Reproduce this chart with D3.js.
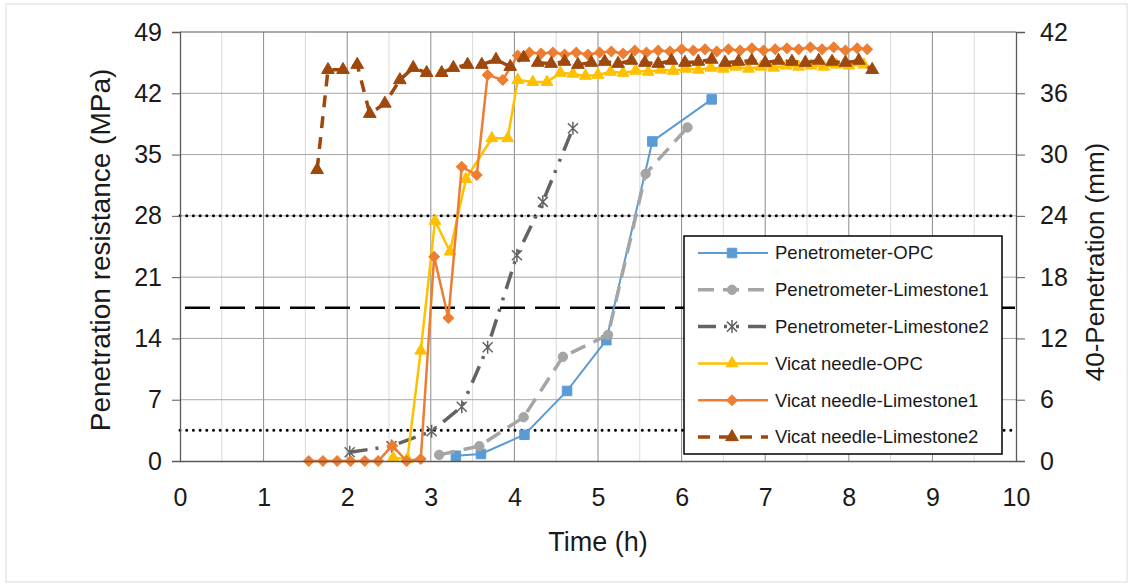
<!DOCTYPE html>
<html lang="en">
<head>
<meta charset="utf-8">
<script src="https://cdn.jsdelivr.net/npm/d3@7/dist/d3.min.js"></script>
<style>
  body { margin: 0; background: #fff; }
  text { font-family: "Liberation Sans", Arial, sans-serif; fill: #1a1a1a; }
</style>
</head>
<body>
<div id="chart"></div>
<script>
// Penetrometer series, penetration resistance (MPa) on the left axis
const penOpcTime = [3.30, 3.60, 4.12, 4.63, 5.10, 5.65, 6.36];
const penOpcVal  = [0.6, 0.8, 3.0, 8.0, 13.8, 36.5, 41.3];
const penL1Time  = [3.10, 3.58, 4.11, 4.58, 5.12, 5.57, 6.07];
const penL1Val   = [0.7, 1.7, 5.0, 11.9, 14.4, 32.8, 38.1];
const penL2Time  = [2.03, 2.53, 3.01, 3.37, 3.68, 4.03, 4.34, 4.70];
const penL2Val   = [1.0, 1.7, 3.4, 6.2, 13.0, 23.5, 29.6, 38.0];

// Vicat needle series, 40-penetration (mm) on the right axis
const vicOpcTime = [2.55, 2.72, 2.88, 3.05, 3.23, 3.42, 3.73, 3.92, 4.04, 4.22, 4.39, 4.55, 4.70, 4.85,
  5.00, 5.15, 5.30, 5.45, 5.60, 5.75, 5.90, 6.05, 6.20, 6.35, 6.50, 6.65, 6.80, 6.95, 7.10, 7.25,
  7.40, 7.55, 7.70, 7.85, 8.00, 8.18];
const vicOpcVal  = [0.3, 0.2, 10.8, 23.5, 20.5, 27.6, 31.6, 31.6, 37.3, 37.1, 37.1, 38.0, 37.9, 37.7,
  37.8, 38.1, 38.0, 38.2, 38.1, 38.3, 38.2, 38.4, 38.3, 38.5, 38.4, 38.6, 38.4, 38.6, 38.5, 38.7,
  38.6, 38.7, 38.6, 38.8, 38.7, 38.8];
const vicL1Time  = [1.54, 1.71, 1.88, 2.04, 2.21, 2.37, 2.54, 2.71, 2.88, 3.04, 3.21, 3.37, 3.55, 3.68,
  3.86, 4.04, 4.18, 4.32, 4.46, 4.60, 4.74, 4.88, 5.02, 5.16, 5.30, 5.44, 5.58, 5.72, 5.86, 6.00,
  6.14, 6.28, 6.42, 6.56, 6.70, 6.84, 6.98, 7.12, 7.26, 7.40, 7.54, 7.68, 7.82, 7.96, 8.10, 8.22];
const vicL1Val   = [0, 0, 0, 0, 0, 0, 1.5, 0, 0.2, 20.0, 14.0, 28.8, 28.0, 37.8,
  37.3, 39.7, 40.0, 39.9, 40.0, 39.8, 40.0, 39.8, 40.0, 40.1, 39.9, 40.2, 40.0, 40.2, 40.1, 40.3,
  40.2, 40.3, 40.1, 40.3, 40.2, 40.4, 40.2, 40.3, 40.4, 40.3, 40.5, 40.3, 40.5, 40.2, 40.4, 40.3];
const vicL2Time  = [1.64, 1.77, 1.95, 2.12, 2.27, 2.45, 2.63, 2.79, 2.95, 3.13, 3.27, 3.44, 3.61, 3.78,
  3.95, 4.11, 4.28, 4.44, 4.60, 4.76, 4.92, 5.08, 5.24, 5.40, 5.56, 5.72, 5.88, 6.04, 6.20, 6.36,
  6.52, 6.68, 6.84, 7.00, 7.16, 7.32, 7.48, 7.64, 7.80, 7.96, 8.12, 8.28];
const vicL2Val   = [28.5, 38.3, 38.3, 38.8, 34.0, 35.0, 37.3, 38.5, 38.0, 38.0, 38.5, 38.8, 38.8, 39.3,
  38.6, 39.5, 39.0, 38.9, 39.1, 38.8, 39.0, 39.1, 38.9, 39.2, 39.0, 38.9, 39.2, 39.0, 39.1, 39.3,
  39.0, 39.1, 39.2, 39.0, 39.2, 39.1, 39.0, 39.2, 39.1, 39.0, 39.2, 38.3];

// set-time limit lines (MPa)
const refDotted = [28, 3.5];
const refDashed = [17.5];

const xTicks = [0, 1, 2, 3, 4, 5, 6, 7, 8, 9, 10];
const yLeftTicks = [0, 7, 14, 21, 28, 35, 42, 49];
const yRightTicks = [0, 6, 12, 18, 24, 30, 36, 42];

const width = 1130, height = 584;
const svg = d3.select("#chart").append("svg")
  .attr("width", width).attr("height", height);

svg.append("rect")
  .attr("x", 6).attr("y", 4).attr("width", 1121).attr("height", 578)
  .attr("fill", "#fff").attr("stroke", "#d9d9d9");

const x = d3.scaleLinear().domain([0, 10]).range([180, 1016]);
const yL = d3.scaleLinear().domain([0, 49]).range([461, 32]);
const yR = d3.scaleLinear().domain([0, 42]).range([461, 32]);

// grid
const grid = svg.append("g");
grid.selectAll(".minor").data(d3.range(0.5, 10, 1)).enter().append("line")
  .attr("x1", d => x(d)).attr("x2", d => x(d)).attr("y1", yL(49)).attr("y2", yL(0))
  .attr("stroke", "#d9d9d9").attr("stroke-width", 1);
grid.selectAll(".major").data(xTicks.slice(1, -1)).enter().append("line")
  .attr("x1", d => x(d)).attr("x2", d => x(d)).attr("y1", yL(49)).attr("y2", yL(0))
  .attr("stroke", "#8c8c8c").attr("stroke-width", 1);
grid.selectAll(".hgrid").data(yLeftTicks.slice(1)).enter().append("line")
  .attr("x1", x(0)).attr("x2", x(10)).attr("y1", d => yL(d)).attr("y2", d => yL(d))
  .attr("stroke", d => d === 49 ? "#595959" : "#a6a6a6").attr("stroke-width", 1);

// reference lines
svg.selectAll(".dot").data(refDotted).enter().append("line")
  .attr("x1", x(0)).attr("x2", x(10)).attr("y1", d => yL(d)).attr("y2", d => yL(d))
  .attr("stroke", "#000").attr("stroke-width", 3)
  .attr("stroke-linecap", "round").attr("stroke-dasharray", "0 6.7");
svg.selectAll(".dash").data(refDashed).enter().append("line")
  .attr("x1", x(0) + 5).attr("x2", x(10)).attr("y1", d => yL(d)).attr("y2", d => yL(d))
  .attr("stroke", "#000").attr("stroke-width", 2.5).attr("stroke-dasharray", "25 10");

// series
const asterisk = "M-5,-5L5,5M-5,5L5,-5M0,-6.5L0,6.5";
const series = [
  { name: "Penetrometer-OPC", t: penOpcTime, v: penOpcVal, y: yL, color: "#5b9bd5", width: 2,
    dash: null, marker: d3.symbol(d3.symbolSquare, 90)() },
  { name: "Penetrometer-Limestone1", t: penL1Time, v: penL1Val, y: yL, color: "#a5a5a5", width: 3.5,
    dash: "16 9", marker: d3.symbol(d3.symbolCircle, 70)() },
  { name: "Penetrometer-Limestone2", t: penL2Time, v: penL2Val, y: yL, color: "#636363", width: 3.5,
    dash: "18 8 3 9 3 9", marker: asterisk, stroke: true },
  { name: "Vicat needle-OPC", t: vicOpcTime, v: vicOpcVal, y: yR, color: "#ffc000", width: 2.5,
    dash: null, marker: d3.symbol(d3.symbolTriangle, 60)() },
  { name: "Vicat needle-Limestone1", t: vicL1Time, v: vicL1Val, y: yR, color: "#ed7d31", width: 2.5,
    dash: null, marker: d3.symbol(d3.symbolSquare, 56)(), rotate: 45 },
  { name: "Vicat needle-Limestone2", t: vicL2Time, v: vicL2Val, y: yR, color: "#9e480e", width: 3.5,
    dash: "12 9", marker: d3.symbol(d3.symbolTriangle, 70)() }
];

series.forEach(s => {
  const pts = s.t.map((t, i) => [t, s.v[i]]);
  const g = svg.append("g");
  g.append("path")
    .datum(pts)
    .attr("fill", "none")
    .attr("stroke", s.color)
    .attr("stroke-width", s.width)
    .attr("stroke-dasharray", s.dash)
    .attr("d", d3.line().x(d => x(d[0])).y(d => s.y(d[1])));
  g.selectAll("path.m").data(pts).enter().append("path")
    .attr("class", "m")
    .attr("d", s.marker)
    .attr("transform", d => `translate(${x(d[0])},${s.y(d[1])})` + (s.rotate ? ` rotate(${s.rotate})` : ""))
    .attr("fill", s.stroke ? "none" : s.color)
    .attr("stroke", s.color)
    .attr("stroke-width", s.stroke ? 1.5 : 1);
});

// axes
const axisColor = "#595959";
const gx = svg.append("g").attr("transform", `translate(0,${yL(0)})`)
  .call(d3.axisBottom(x).tickValues(xTicks).tickSize(0).tickPadding(27).tickFormat(d3.format("d")));
const gl = svg.append("g").attr("transform", `translate(${x(0)},0)`)
  .call(d3.axisLeft(yL).tickValues(yLeftTicks).tickSize(8).tickPadding(10));
const gr = svg.append("g").attr("transform", `translate(${x(10)},0)`)
  .call(d3.axisRight(yR).tickValues(yRightTicks).tickSize(9).tickPadding(15));
[gx, gl, gr].forEach(g => {
  g.select(".domain").attr("stroke", axisColor).attr("stroke-width", 1.3);
  g.selectAll(".tick line").attr("stroke", axisColor);
  g.selectAll(".tick text").attr("font-size", 25).attr("font-family", "Liberation Sans, Arial, sans-serif")
    .attr("fill", "#1a1a1a");
});

svg.append("text")
  .attr("x", 598).attr("y", 551).attr("text-anchor", "middle")
  .attr("font-size", 27).text("Time (h)");
svg.append("text")
  .attr("transform", "translate(110,250) rotate(-90)").attr("text-anchor", "middle")
  .attr("font-size", 28).text("Penetration resistance (MPa)");
svg.append("text")
  .attr("transform", "translate(1104,262) rotate(-90)").attr("text-anchor", "middle")
  .attr("font-size", 26).text("40-Penetration (mm)");

// legend
const legend = svg.append("g").attr("transform", "translate(684,236)");
legend.append("rect").attr("width", 318).attr("height", 218)
  .attr("fill", "#fff").attr("stroke", "#000").attr("stroke-width", 1.5);
series.forEach((s, i) => {
  const ly = 17 + i * 36.8;
  legend.append("line")
    .attr("x1", 14).attr("x2", 84).attr("y1", ly).attr("y2", ly)
    .attr("stroke", s.color).attr("stroke-width", s.width)
    .attr("stroke-dasharray", s.dash);
  legend.append("path")
    .attr("d", s.marker)
    .attr("transform", `translate(48,${ly})` + (s.rotate ? ` rotate(${s.rotate})` : ""))
    .attr("fill", s.stroke ? "none" : s.color)
    .attr("stroke", s.color).attr("stroke-width", s.stroke ? 1.5 : 1);
  legend.append("text")
    .attr("x", 91).attr("y", ly).attr("dy", "0.35em")
    .attr("font-size", 18.5).text(s.name);
});
</script>
</body>
</html>
